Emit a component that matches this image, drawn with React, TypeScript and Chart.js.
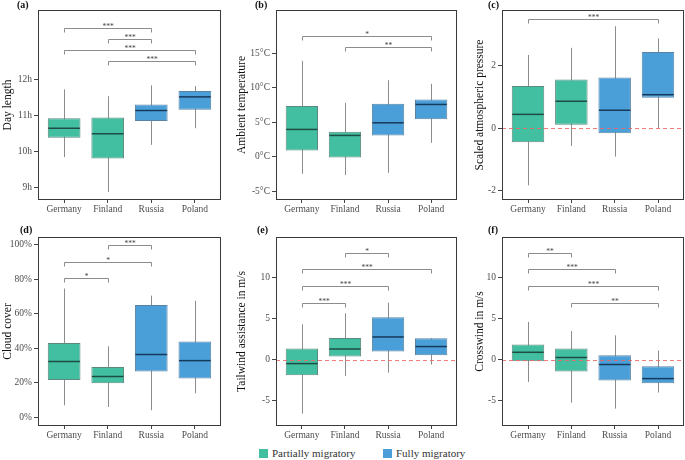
import React, { useEffect, useRef } from "react";
import { Chart, registerables } from "chart.js";

Chart.register(...registerables);

const countries = ["Germany", "Finland", "Russia", "Poland"];
const groupLabels = ["Partially migratory", "Fully migratory"];
const groupOfCountry = [0, 0, 1, 1];

// box statistics per country: [min, q1, median, q3, max]
const dayLength = [
  [9.84, 10.38, 10.64, 10.92, 11.72],
  [8.87, 9.8, 10.49, 10.94, 11.53],
  [10.18, 10.84, 11.13, 11.3, 11.83],
  [10.64, 11.15, 11.51, 11.67, 11.81],
];
const temperature = [
  [-2.46, 0.93, 3.97, 7.35, 13.9],
  [-2.65, -0.1, 3.1, 3.62, 7.83],
  [-2.32, 3.1, 4.93, 7.68, 11.1],
  [2.03, 5.46, 7.59, 8.32, 10.58],
];
const pressure = [
  [-1.82, -0.44, 0.45, 1.36, 2.35],
  [-0.56, 0.12, 0.87, 1.57, 2.58],
  [-0.9, -0.15, 0.58, 1.63, 3.27],
  [0.0, 0.98, 1.08, 2.45, 2.88],
];
const cloudCover = [
  [7.1, 21.7, 32.4, 43.1, 74.6],
  [6.1, 19.8, 23.7, 29.2, 41.2],
  [4.2, 26.6, 36.4, 65.1, 70.5],
  [14.0, 22.5, 32.9, 43.9, 67.6],
];
const tailwind = [
  [-6.59, -1.91, -0.49, 1.34, 4.3],
  [-2.0, 0.37, 1.29, 2.63, 5.65],
  [-1.59, 0.98, 2.76, 5.16, 6.95],
  [-0.61, 0.52, 1.59, 2.6, 2.63],
];
const crosswind = [
  [-2.73, -0.2, 0.89, 1.83, 4.59],
  [-5.24, -1.46, 0.24, 1.34, 3.49],
  [-5.98, -2.56, -0.61, 0.52, 2.96],
  [-4.02, -2.89, -2.32, -0.82, 1.1],
];

// significance brackets: [from country #, to country #, y value, label]
const dayLengthSig = [
  [1, 3, 13.41, "***"],
  [2, 3, 13.11, "***"],
  [1, 4, 12.81, "***"],
  [2, 4, 12.51, "***"],
];
const temperatureSig = [
  [1, 4, 17.49, "*"],
  [2, 4, 15.9, "**"],
];
const pressureSig = [[1, 4, 3.5, "***"]];
const cloudCoverSig = [
  [2, 3, 100.0, "***"],
  [1, 3, 89.9, "*"],
  [1, 2, 80.9, "*"],
];
const tailwindSig = [
  [2, 3, 13.05, "*"],
  [1, 4, 11.01, "***"],
  [1, 3, 8.98, "***"],
  [1, 2, 6.95, "***"],
];
const crosswindSig = [
  [1, 2, 13.05, "**"],
  [1, 3, 11.01, "***"],
  [1, 4, 8.98, "***"],
  [2, 4, 6.95, "**"],
];

// tick values
const dayLengthTicks = [9, 10, 11, 12];
const temperatureTicks = [-5, 0, 5, 10, 15];
const pressureTicks = [-2, 0, 2];
const cloudCoverTicks = [0, 20, 40, 60, 80, 100];
const windTicks = [-5, 0, 5, 10];

const FONT = '"Liberation Serif", "Times New Roman", serif';
const FILL = ["#41bfa0", "#4a9fd9"];
const EDGE = ["#5d8a7e", "#5b83a3"];
const MEDIAN = ["#1d4d43", "#17395a"];

type PanelCfg = {
  tag: string;
  title: string;
  stats: number[][];
  sig: any[];
  ticks: number[];
  fmt: (v: number) => string;
  yMin: number;
  yMax: number;
  zero: boolean;
  left: number;
  top: number;
  w: number;
  h: number;
  yAxisW: number;
  xAxisH: number;
  padTop: number;
  padRight: number;
  titlePad: number;
  tagDx: number;
  tagDy: number;
};

function makePlugin(cfg: PanelCfg) {
  return {
    id: "boxExtras",
    beforeDatasetsDraw(chart: any) {
      const { ctx } = chart;
      const xs = chart.scales.x;
      const ys = chart.scales.y;
      ctx.save();
      ctx.strokeStyle = "#8c8c8c";
      ctx.lineWidth = 1;
      cfg.stats.forEach((s, i) => {
        const x = Math.round(xs.getPixelForValue(i + 1)) + 0.5;
        ctx.beginPath();
        ctx.moveTo(x, ys.getPixelForValue(s[0]));
        ctx.lineTo(x, ys.getPixelForValue(s[4]));
        ctx.stroke();
      });
      ctx.restore();
    },
    afterDatasetsDraw(chart: any) {
      const { ctx, chartArea } = chart;
      const xs = chart.scales.x;
      const ys = chart.scales.y;
      ctx.save();
      // medians
      ctx.lineWidth = 1.5;
      cfg.stats.forEach((s, i) => {
        const g = groupOfCountry[i];
        ctx.strokeStyle = MEDIAN[g];
        const y = ys.getPixelForValue(s[2]);
        ctx.beginPath();
        ctx.moveTo(xs.getPixelForValue(i + 1 - 0.375) + 0.5, y);
        ctx.lineTo(xs.getPixelForValue(i + 1 + 0.375) - 0.5, y);
        ctx.stroke();
      });
      // zero reference line
      if (cfg.zero) {
        const y = Math.round(ys.getPixelForValue(0)) + 0.5;
        ctx.strokeStyle = "rgba(240, 100, 100, 0.85)";
        ctx.lineWidth = 1;
        ctx.setLineDash([4, 3]);
        ctx.beginPath();
        ctx.moveTo(chartArea.left, y);
        ctx.lineTo(chartArea.right, y);
        ctx.stroke();
        ctx.setLineDash([]);
      }
      // significance brackets
      ctx.strokeStyle = "#8c8c8c";
      ctx.fillStyle = "#444";
      ctx.lineWidth = 1;
      ctx.font = `7.5px ${FONT}`;
      ctx.textAlign = "center";
      ctx.textBaseline = "alphabetic";
      cfg.sig.forEach((b) => {
        const x1 = Math.round(xs.getPixelForValue(b[0])) + 0.5;
        const x2 = Math.round(xs.getPixelForValue(b[1])) + 0.5;
        const y = Math.round(ys.getPixelForValue(b[2])) + 0.5;
        ctx.beginPath();
        ctx.moveTo(x1, y + 4);
        ctx.lineTo(x1, y);
        ctx.lineTo(x2, y);
        ctx.lineTo(x2, y + 4);
        ctx.stroke();
        ctx.fillText(b[3], (x1 + x2) / 2, y + 0.5);
      });
      // panel border
      ctx.strokeStyle = "#3a3a3a";
      ctx.lineWidth = 1;
      ctx.strokeRect(
        Math.round(chartArea.left) + 0.5,
        Math.round(chartArea.top) + 0.5,
        Math.round(chartArea.right - chartArea.left) - 1,
        Math.round(chartArea.bottom - chartArea.top) - 1
      );
      // panel tag
      ctx.fillStyle = "#111";
      ctx.font = `bold 10px ${FONT}`;
      ctx.textAlign = "left";
      ctx.textBaseline = "middle";
      ctx.fillText(cfg.tag, chartArea.left + cfg.tagDx, chartArea.top + cfg.tagDy);
      ctx.restore();
    },
  };
}

function buildConfig(cfg: PanelCfg): any {
  const data = {
    datasets: [
      {
        data: cfg.stats.map((s, i) => ({ x: i + 1, y: [s[1], s[3]] })),
        backgroundColor: cfg.stats.map((_, i) => FILL[groupOfCountry[i]]),
        borderColor: cfg.stats.map((_, i) => EDGE[groupOfCountry[i]]),
        borderWidth: 1,
        borderSkipped: false,
        categoryPercentage: 1,
        barPercentage: 0.75,
      },
    ],
  };
  return {
    type: "bar",
    data,
    plugins: [makePlugin(cfg)],
    options: {
      responsive: false,
      animation: false,
      layout: { padding: { top: cfg.padTop, right: cfg.padRight, left: 0, bottom: 0 } },
      plugins: { legend: { display: false }, tooltip: { enabled: false } },
      scales: {
        x: {
          type: "linear",
          min: 0.4,
          max: 4.6,
          offset: false,
          border: { display: false },
          grid: {
            display: true,
            drawOnChartArea: false,
            offset: false,
            drawTicks: true,
            tickLength: 3,
            color: "#444",
          },
          afterBuildTicks: (s: any) => {
            s.ticks = countries.map((_, i) => ({ value: i + 1 }));
          },
          ticks: {
            autoSkip: false,
            maxRotation: 0,
            padding: 1,
            color: "#4d4d4d",
            font: { family: FONT, size: 9.5 },
            callback: (v: number) => countries[Math.round(v) - 1] ?? "",
          },
          afterFit: (s: any) => {
            s.height = cfg.xAxisH;
          },
        },
        y: {
          type: "linear",
          min: cfg.yMin,
          max: cfg.yMax,
          border: { display: false },
          grid: {
            display: true,
            drawOnChartArea: false,
            drawTicks: true,
            tickLength: 4,
            color: "#444",
          },
          afterBuildTicks: (s: any) => {
            s.ticks = cfg.ticks.map((v) => ({ value: v }));
          },
          ticks: {
            padding: 2,
            color: "#4d4d4d",
            font: { family: FONT, size: 9.5 },
            callback: (v: number) => cfg.fmt(v),
          },
          title: {
            display: true,
            text: cfg.title,
            color: "#111",
            font: { family: FONT, size: 11.5 },
            padding: { top: cfg.titlePad, bottom: 0 },
          },
          afterFit: (s: any) => {
            s.width = cfg.yAxisW;
          },
        },
      },
    },
  };
}

const row1 = { top: 0, h: 215, padTop: 10, xAxisH: 15, tagDy: -5 };
const row2 = { top: 215, h: 225, padTop: 22, xAxisH: 14, tagDy: -7 };
const col1 = { left: 0, w: 226, yAxisW: 38, padRight: 5, titlePad: 1 };
const col2 = { left: 228, w: 230, yAxisW: 48, padRight: 1, titlePad: 7 };
const col3 = { left: 460, w: 225, yAxisW: 42, padRight: 1, titlePad: 13 };

const panels: PanelCfg[] = [
  {
    ...row1, ...col1, tag: "(a)", tagDx: -21, title: "Day length", stats: dayLength, sig: dayLengthSig,
    ticks: dayLengthTicks, fmt: (v) => `${v}h`, yMin: 8.65, yMax: 13.92, zero: false,
  },
  {
    ...row1, ...col2, tag: "(b)", tagDx: -21, title: "Ambient temperature", stats: temperature, sig: temperatureSig,
    ticks: temperatureTicks, fmt: (v) => `${v}°C`, yMin: -6.26, yMax: 21.28, zero: false,
  },
  {
    ...row1, ...col3, tag: "(c)", tagDx: -14, title: "Scaled atmospheric pressure", stats: pressure, sig: pressureSig,
    ticks: pressureTicks, fmt: (v) => `${v}`, yMin: -2.29, yMax: 3.79, zero: true,
  },
  {
    ...row2, ...col1, tag: "(d)", tagDx: -18, title: "Cloud cover", stats: cloudCover, sig: cloudCoverSig,
    ticks: cloudCoverTicks, fmt: (v) => `${v}%`, yMin: -4.9, yMax: 104.4, zero: false,
  },
  {
    ...row2, ...col2, tag: "(e)", tagDx: -19, title: "Tailwind assistance in m/s", stats: tailwind, sig: tailwindSig,
    ticks: windTicks, fmt: (v) => `${v}`, yMin: -8.1, yMax: 14.95, zero: true,
  },
  {
    ...row2, ...col3, tag: "(f)", tagDx: -14, title: "Crosswind in m/s", stats: crosswind, sig: crosswindSig,
    ticks: windTicks, fmt: (v) => `${v}`, yMin: -8.1, yMax: 14.95, zero: true,
  },
];

function Panel({ cfg }: { cfg: PanelCfg }) {
  const ref = useRef<HTMLCanvasElement>(null);
  useEffect(() => {
    if (!ref.current) return;
    const chart = new Chart(ref.current, buildConfig(cfg));
    return () => chart.destroy();
  }, [cfg]);
  return (
    <canvas
      ref={ref}
      width={cfg.w}
      height={cfg.h}
      style={{ position: "absolute", left: cfg.left, top: cfg.top, width: cfg.w, height: cfg.h }}
    />
  );
}

export default function App() {
  return (
    <div
      style={{
        position: "absolute",
        left: 0,
        top: 0,
        width: 685,
        height: 460,
        background: "#fff",
        overflow: "hidden",
        fontFamily: FONT,
      }}
    >
      {panels.map((p) => (
        <Panel key={p.tag} cfg={p} />
      ))}
      {groupLabels.map((label, g) => (
        <div
          key={label}
          style={{
            position: "absolute",
            left: g === 0 ? 259 : 383,
            top: 446,
            height: 14,
            display: "flex",
            alignItems: "center",
            fontSize: 11,
            color: "#333",
            whiteSpace: "nowrap",
          }}
        >
          <span style={{ display: "inline-block", width: 9, height: 9, background: FILL[g], marginRight: 4 }} />
          {label}
        </div>
      ))}
    </div>
  );
}
